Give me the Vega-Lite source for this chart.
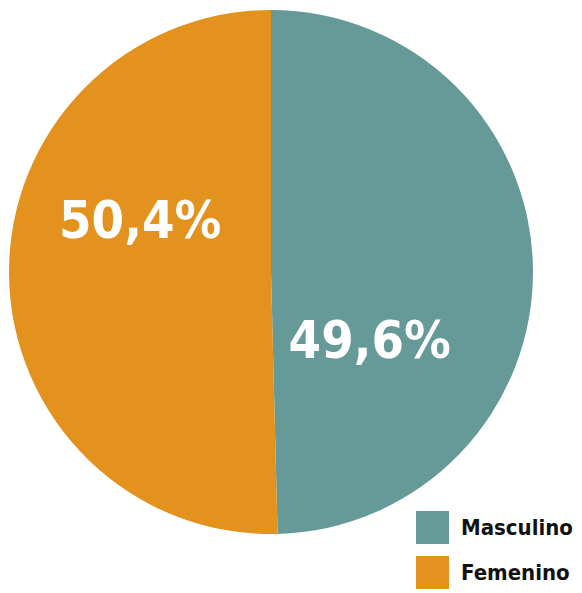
{
  "$schema": "https://vega.github.io/schema/vega-lite/v6.json",
  "width": 542,
  "height": 544,
  "padding": 0,
  "autosize": {"type": "pad"},
  "background": "white",
  "config": {"view": {"stroke": null}},
  "data": {"values": [
    {"sexo": "Masculino", "pct": 49.6, "label": "49,6%", "orden": 1},
    {"sexo": "Femenino", "pct": 50.4, "label": "50,4%", "orden": 2}
  ]},
  "layer": [
    {
      "mark": {"type": "arc", "radius": 262},
      "encoding": {
        "theta": {"field": "pct", "type": "quantitative", "stack": true},
        "order": {"field": "orden", "type": "quantitative"},
        "color": {
          "field": "sexo", "type": "nominal",
          "scale": {"domain": ["Masculino", "Femenino"], "range": ["#659A98", "#E4921E"]},
          "legend": {
            "title": null, "orient": "none", "legendX": 416, "legendY": 511,
            "symbolType": "square", "symbolSize": 1089, "symbolStrokeWidth": 0,
            "symbolOpacity": 1,
            "labelFont": "DejaVu Sans Condensed", "labelFontWeight": "bold",
            "labelFontSize": 22, "labelColor": "#111111", "labelOffset": 12,
            "labelLimit": 200,
            "rowPadding": 12, "padding": 0
          }
        }
      }
    },
    {
      "transform": [{"filter": "datum.sexo === 'Femenino'"}],
      "mark": {"type": "text", "theta": 5.077, "radius": 140, "font": "DejaVu Sans Condensed", "fontWeight": "bold", "fontSize": 52, "color": "white", "baseline": "middle", "align": "center"},
      "encoding": {"text": {"field": "label"}}
    },
    {
      "transform": [{"filter": "datum.sexo === 'Masculino'"}],
      "mark": {"type": "text", "theta": 2.187, "radius": 121, "font": "DejaVu Sans Condensed", "fontWeight": "bold", "fontSize": 52, "color": "white", "baseline": "middle", "align": "center"},
      "encoding": {"text": {"field": "label"}}
    }
  ]
}
